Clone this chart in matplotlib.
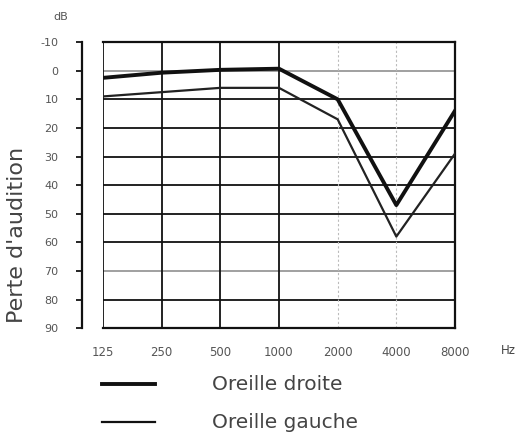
import matplotlib
matplotlib.use("Agg")
import matplotlib.pyplot as plt
from matplotlib.lines import Line2D

# Audiogramme : fréquences (Hz) et pertes (dB)
frequences = [125, 250, 500, 1000, 2000, 4000, 8000]
etiquettes_freq = ["125", "250", "500", "1000", "2000", "4000", "8000"]
oreille_droite = [2.5, 0.7, -0.3, -0.7, 10, 47, 14]
oreille_gauche = [9, 7.5, 6, 6, 17, 58, 29]
niveaux_db = [-10, 0, 10, 20, 30, 40, 50, 60, 70, 80, 90]
legendes = ["Oreille droite", "Oreille gauche"]

plt.rcParams['font.family'] = ['DejaVu Sans']

fig = plt.figure(figsize=(5.2, 4.34), dpi=100)
ax = fig.add_axes([0.198, 0.244, 0.677, 0.659])

ax.set_xscale("log")
ax.set_xlim(125, 8000)
ax.set_ylim(90, -10)

# quadrillage
for db in niveaux_db[1:-1]:
    couleur = "#999999" if db in (0, 70) else "#111111"
    ax.axhline(db, color=couleur, lw=1.3, zorder=1)
for f in [125, 250, 500, 1000]:
    ax.axvline(f, color="#111111", lw=1.3, zorder=1)
for f in [2000, 4000]:
    ax.axvline(f, color="#bbbbbb", lw=0.8, ls=(0, (2, 2)), zorder=1)

ax.plot(frequences, oreille_droite, color="#111111", lw=2.8, zorder=3)
ax.plot(frequences, oreille_gauche, color="#222222", lw=1.6, zorder=3)

for s in ["top", "right", "bottom"]:
    ax.spines[s].set_linewidth(1.6)
    ax.spines[s].set_color("#111111")
ax.spines["left"].set_position(("outward", 15))
ax.spines["left"].set_linewidth(1.6)
ax.spines["left"].set_color("#111111")

ax.set_yticks(niveaux_db)
ax.set_yticklabels([str(v) for v in niveaux_db], fontsize=8, color="#555555")
ax.tick_params(axis="y", length=4, width=1.2, pad=13)

ax.set_xticks(frequences)
ax.set_xticklabels(etiquettes_freq, fontsize=8.5, color="#555555")
ax.xaxis.set_minor_locator(matplotlib.ticker.NullLocator())
ax.tick_params(axis="x", length=0, pad=13)

fig.text(17 / 520, 1 - 235 / 434, "Perte d'audition", fontsize=16,
         color="#444444", rotation=90, ha="center", va="center")

fig.text(61 / 520, 1 - 17 / 434, "dB", fontsize=8, color="#555555",
         ha="center", va="center")
fig.text(508 / 520, 1 - 351 / 434, "Hz", fontsize=8.5, color="#444444",
         ha="center", va="center")

# légende dessinée à la main
for i, (texte, lw) in enumerate(zip(legendes, [2.8, 1.6])):
    y = 1 - (384 + 38 * i) / 434
    fig.add_artist(Line2D([102 / 520, 155 / 520], [y, y], color="#111111",
                          lw=lw, transform=fig.transFigure))
    fig.text(212 / 520, y, texte, fontsize=14.5, color="#444444",
             ha="left", va="center")

fig.savefig("out.png", dpi=100)
